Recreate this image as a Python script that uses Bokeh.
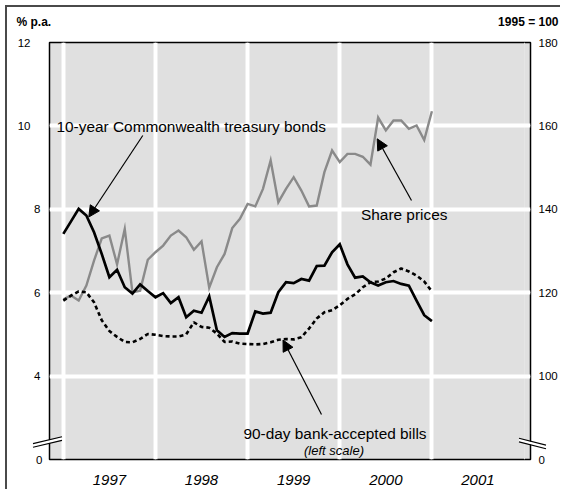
from bokeh.plotting import figure
from bokeh.models import (Range1d, LinearAxis, FixedTicker, Label, Arrow,
                          NormalHead, Grid)
from bokeh.core.properties import value
from bokeh.embed import file_html
from bokeh.resources import INLINE

# ---------------- data (monthly, end-Dec 1996 .. end-Dec 2000) ----------------
year_labels = ["1997", "1998", "1999", "2000", "2001"]
first_year = 1997
n_months = 49

bonds_10y = [7.41, 7.71, 8.01, 7.85, 7.45, 6.93, 6.37, 6.55, 6.13, 5.98, 6.20, 6.04,
             5.89, 5.99, 5.75, 5.89, 5.41, 5.57, 5.52, 5.91, 5.10, 4.94, 5.03, 5.02,
             5.02, 5.55, 5.50, 5.52, 6.01, 6.25, 6.23, 6.33, 6.29, 6.64, 6.65, 6.97,
             7.16, 6.68, 6.36, 6.39, 6.25, 6.17, 6.25, 6.28, 6.21, 6.17, 5.81, 5.46,
             5.32]
bills_90d = [5.81, 5.93, 6.03, 6.01, 5.77, 5.34, 5.08, 4.94, 4.82, 4.81, 4.89, 5.01,
             4.99, 4.96, 4.95, 4.95, 5.00, 5.29, 5.18, 5.16, 5.02, 4.82, 4.83, 4.78,
             4.77, 4.76, 4.77, 4.81, 4.87, 4.89, 4.88, 4.93, 5.14, 5.38, 5.53, 5.58,
             5.70, 5.85, 5.96, 6.13, 6.25, 6.27, 6.34, 6.49, 6.58, 6.51, 6.41, 6.27,
             6.03]
share_prices = [118.4, 119.3, 118.1, 121.7, 127.7, 133.0, 133.7, 126.8, 135.3, 120.1,
                120.5, 127.9, 129.7, 131.3, 133.7, 134.9, 133.3, 130.3, 132.3, 121.2,
                126.1, 129.3, 135.5, 137.7, 141.3, 140.7, 144.9, 151.7, 141.7, 144.9,
                147.7, 144.5, 140.7, 140.9, 148.9, 154.1, 151.3, 153.3, 153.3, 152.6,
                150.7, 162.0, 158.9, 161.3, 161.3, 159.3, 160.1, 156.6, 163.5]

left_ticks = [2, 4, 6, 8, 10, 12]
left_tick_labels = ["0", "4", "6", "8", "10", "12"]      # axis broken below 4
right_ticks = [80, 100, 120, 140, 160, 180]
right_tick_labels = ["0", "100", "120", "140", "160", "180"]
unit_titles = ["% p.a.", "1995 = 100"]

months = [first_year + i / 12 for i in range(n_months)]

# ---------------- layout ----------------
X0, X1 = 1996.85, 2002.07
Y0, Y1 = 2, 12
R0, R1 = 80, 180
HOST = 5            # page offset of the outer frame
BORDER = 2
W, H = 555, 484
MBL, MBT = 42, 35
FW, FH = 481, 417
MBR = W - MBL - FW
MBB = H - MBT - FH
FL, FT = HOST + BORDER + MBL, HOST + BORDER + MBT   # frame position on the page
FB = FT + FH


def px2x(px):
    return X0 + (px - FL) / FW * (X1 - X0)


def py2y(py):
    return Y1 - (py - FT) / FH * (Y1 - Y0)


FONT = "Liberation Sans"

p = figure(width=W, height=H, x_range=Range1d(X0, X1), y_range=Range1d(Y0, Y1),
           output_backend="svg", toolbar_location=None,
           x_axis_location=None, y_axis_location=None,
           min_border_left=MBL, min_border_right=MBR,
           min_border_top=MBT, min_border_bottom=MBB)
p.extra_y_ranges = {"right": Range1d(R0, R1)}
p.background_fill_color = "#e0e0e0"
p.border_fill_color = "white"
p.outline_line_color = "black"
p.outline_line_width = 1.5
p.styles = {"border-top": f"{BORDER}px solid #4a4a4a",
            "border-left": f"{BORDER}px solid #4a4a4a",
            "margin-left": f"{HOST}px", "margin-top": f"{HOST}px"}


def make_axis(ticks, labels, size, standoff, italic=False, **kw):
    ax = LinearAxis(ticker=FixedTicker(ticks=ticks),
                    major_label_overrides=dict(zip(ticks, labels)), **kw)
    ax.axis_line_color = None
    ax.major_tick_line_color = None
    ax.minor_tick_line_color = None
    ax.major_tick_out = 0
    ax.major_tick_in = 0
    ax.major_label_standoff = standoff
    ax.major_label_text_font = FONT
    ax.major_label_text_font_size = size
    ax.major_label_text_color = "black"
    if italic:
        ax.major_label_text_font_style = "italic"
    return ax


# left axes: the broken-axis "0" next to the frame, then the single-digit
# labels, then the two-digit ones further out
edge = [(t, l) for t, l in zip(left_ticks, left_tick_labels) if t == Y0]
short = [(t, l) for t, l in zip(left_ticks, left_tick_labels) if len(l) == 1 and t != Y0]
long_ = [(t, l) for t, l in zip(left_ticks, left_tick_labels) if len(l) > 1]
p.add_layout(make_axis([t for t, _ in edge], [l for _, l in edge], "11.5px", 7), "left")
p.add_layout(make_axis([t for t, _ in short], [l for _, l in short], "11.5px", -7), "left")
p.add_layout(make_axis([t for t, _ in long_], [l for _, l in long_], "11.5px", 1), "left")

p.add_layout(make_axis(right_ticks, right_tick_labels, "11.5px", 8,
                       y_range_name="right"), "right")

year_ticks = [int(y) + 0.5 for y in year_labels]
p.add_layout(make_axis(year_ticks, year_labels, "15px", 15, italic=True), "below")

# grids
p.add_layout(Grid(dimension=0, ticker=FixedTicker(ticks=[int(y) for y in year_labels]),
                  grid_line_color="white", grid_line_width=4))
p.add_layout(Grid(dimension=1, ticker=FixedTicker(ticks=[t for t in left_ticks if Y0 < t < Y1]),
                  grid_line_color="white", grid_line_width=4))

# series
p.line(months, share_prices, y_range_name="right", line_color="#8a8a8a",
       line_width=2.4, line_join="miter")
p.line(months, bills_90d, line_color="black", line_width=2.6, line_dash="4 3")
p.line(months, bonds_10y, line_color="black", line_width=2.7, line_join="miter")


# texts inside the plot area (data units)
def add_label(text, px, py, size="15px", align="left", style="normal",
              baseline="alphabetic"):
    p.add_layout(Label(x=px2x(px), y=py2y(py), text=text, text_font=FONT,
                       text_font_size=size, text_align=align, text_baseline=baseline,
                       text_font_style=style, text_color="black"))


add_label("10-year Commonwealth treasury bonds", 56, 126, size="15.4px")
add_label("Share prices", 360.5, 213.5, size="15.4px")
add_label("90-day bank-accepted bills", 334.5, 433.3, size="15.4px", align="center")
add_label("(left scale)", 333.5, 449.5, size="13px", align="center", style="italic")

# unit titles above the plot area (overlay-level text, not clipped to the frame)
p.text(x=[px2x(16), px2x(558)], y=[py2y(21.5)] * 2, text=unit_titles,
       text_align=["left", "right"], text_baseline="middle",
       text_font=value(FONT), text_font_size="12px", text_font_style="bold",
       text_color="black", level="overlay")


# arrows
def add_arrow(sx, sy, ex, ey):
    p.add_layout(Arrow(end=NormalHead(size=11, fill_color="black", line_color="black",
                                      line_width=1),
                       x_start=px2x(sx), y_start=py2y(sy), x_end=px2x(ex), y_end=py2y(ey),
                       line_color="black", line_width=1.2))


add_arrow(142.3, 135, 88.3, 216.5)
add_arrow(411, 200, 376.7, 138.3)
add_arrow(321, 414, 282.5, 339.5)


# axis break marks (overlay level so they cross the frame edge)
def add_break(cx, cy, dx, dy):
    p.segment(x0=[px2x(cx - dx)], y0=[py2y(cy - dy)], x1=[px2x(cx + dx)],
              y1=[py2y(cy + dy)], line_color="white", line_width=3, level="overlay")
    p.segment(x0=[px2x(cx - dx)] * 2, y0=[py2y(cy - dy + k) for k in (-1.8, 1.8)],
              x1=[px2x(cx + dx)] * 2, y1=[py2y(cy + dy + k) for k in (-1.8, 1.8)],
              line_color="black", line_width=1.1, level="overlay")


add_break(FL - 2, 441.5, 14.5, -3.4)
add_break(FL + FW + 2, 443, 13.5, 3.4)

open("out.html", "w").write(file_html(p, INLINE))
